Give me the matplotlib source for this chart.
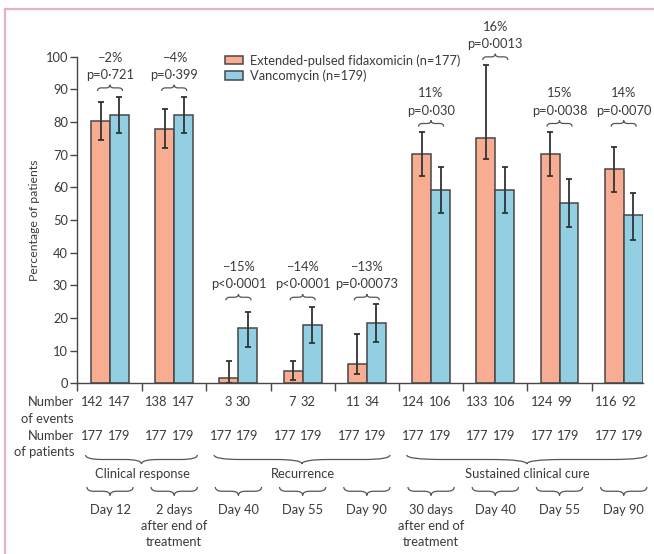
import matplotlib
matplotlib.use("Agg")
import matplotlib.pyplot as plt
import numpy as np
from matplotlib.path import Path
from matplotlib.patches import PathPatch, Patch
from matplotlib.lines import Line2D
import matplotlib.transforms as mtransforms

plt.rcParams['font.family'] = ['Lato', 'DejaVu Sans']

# ---------------- data ----------------
fid_vals = [80.3, 78.0, 1.6, 3.9, 6.0, 70.3, 75.0, 70.3, 65.5]
fid_lo = [74.4, 72.1, 0.0, 1.0, 2.7, 63.4, 68.8, 63.4, 58.7]
fid_hi = [86.0, 84.0, 6.7, 6.7, 15.0, 76.8, 97.5, 76.8, 72.3]
van_vals = [82.1, 82.1, 16.8, 17.8, 18.6, 59.1, 59.1, 55.3, 51.4]
van_lo = [76.7, 76.7, 11.1, 12.2, 12.7, 52.1, 52.1, 47.8, 43.9]
van_hi = [87.6, 87.6, 21.8, 23.3, 24.4, 66.1, 66.1, 62.6, 58.3]
fid_events = [142, 138, 3, 7, 11, 124, 133, 124, 116]
van_events = [147, 147, 30, 32, 34, 106, 106, 99, 92]
fid_patients = [177] * 9
van_patients = [179] * 9
diff_labels = ["\u22122%", "\u22124%", "\u221215%", "\u221214%", "\u221213%", "11%", "16%", "15%", "14%"]
p_labels = ["p=0\u00b7721", "p=0\u00b7399", "p<0\u00b70001", "p<0\u00b70001", "p=0\u00b700073",
            "p=0\u00b7030", "p=0\u00b70013", "p=0\u00b70038", "p=0\u00b70070"]
annot_base = [89.5, 89.5, 25.4, 25.4, 25.4, 78.6, 99.0, 78.6, 78.6]
timepoints = ["Day 12", "2 days\nafter end of\ntreatment", "Day 40", "Day 55", "Day 90",
              "30 days\nafter end of\ntreatment", "Day 40", "Day 55", "Day 90"]
outcome_groups = [("Clinical response", 0, 1), ("Recurrence", 2, 4), ("Sustained clinical cure", 5, 8)]
legend_labels = ["Extended-pulsed fidaxomicin (n=177)", "Vancomycin (n=179)"]

# ---------------- style ----------------
W, H = 654, 554
c_fid = "#F8AC92"
c_van = "#93CFE3"
edge = "#474747"
txt = "#3a3a3a"
fs = 8.5

fig = plt.figure(figsize=(W / 100, H / 100), dpi=100)
ax = fig.add_axes([77 / W, (H - 383.3) / H, (643 - 77) / W, (383.3 - 56.7) / H])

x = np.arange(len(fid_vals))
bw = 0.295
fe = [np.array(fid_vals) - np.array(fid_lo), np.array(fid_hi) - np.array(fid_vals)]
ve = [np.array(van_vals) - np.array(van_lo), np.array(van_hi) - np.array(van_vals)]
ekw = dict(ecolor="#333333", elinewidth=1.3, capsize=2.4, capthick=1.3)
ax.bar(x - bw / 2, fid_vals, bw, color=c_fid, edgecolor=edge, linewidth=1.1, yerr=fe, error_kw=ekw, zorder=2)
ax.bar(x + bw / 2, van_vals, bw, color=c_van, edgecolor=edge, linewidth=1.1, yerr=ve, error_kw=ekw, zorder=2)

ax.set_xlim(-0.514, 8.30)
ax.set_ylim(0, 100)
for s in ["top", "right"]:
    ax.spines[s].set_visible(False)
for s in ["left", "bottom"]:
    ax.spines[s].set_color(edge)
    ax.spines[s].set_linewidth(1.0)
ax.set_yticks(np.arange(0, 101, 10))
ax.tick_params(axis="y", length=5, width=1.0, color=edge, labelsize=fs + 0.8, labelcolor=txt, pad=1.5)
ax.set_xticks([-0.514] + list(np.arange(0.5, 8.0, 1.0)))
ax.set_xticklabels([])
ax.tick_params(axis="x", length=5.5, width=1.0, color=edge)

fig.text(35 / W, 1 - 220 / H, "Percentage of patients", rotation=90, ha="center", va="center",
         fontsize=fs + 0.3, color=txt)


def brace(x0, x1, y_end, y_tip, transform, lw=0.9):
    w = x1 - x0
    xm = (x0 + x1) / 2
    ym = (y_end + y_tip) / 2
    a = w * 0.15
    verts = [(x0, y_end), (x0, ym), (x0 + a, ym), (xm - a, ym), (xm, ym), (xm, y_tip),
             (xm, ym), (xm + a, ym), (x1 - a, ym), (x1, ym), (x1, y_end)]
    codes = [Path.MOVETO, Path.CURVE3, Path.CURVE3, Path.LINETO, Path.CURVE3, Path.CURVE3,
             Path.CURVE3, Path.CURVE3, Path.LINETO, Path.CURVE3, Path.CURVE3]
    p = PathPatch(Path(verts, codes), facecolor="none", edgecolor="#555555", lw=lw,
                  transform=transform, clip_on=False)
    fig.add_artist(p)


# annotations above bars
for i in range(len(x)):
    b = annot_base[i]
    brace(i - 0.195, i + 0.195, b, b + 1.9, ax.transData)
    ax.text(i, b + 4.9, p_labels[i], ha="center", va="center", fontsize=fs + 0.8, color=txt, clip_on=False)
    ax.text(i, b + 10.2, diff_labels[i], ha="center", va="center", fontsize=fs + 0.8, color=txt, clip_on=False)

# rows below axis
bt = mtransforms.blended_transform_factory(ax.transData, fig.transFigure)


def fy(py):
    return 1 - py / H


for i in range(len(x)):
    for py, a, b in [(402, fid_events[i], van_events[i]), (436.5, fid_patients[i], van_patients[i])]:
        ax.text(i - 0.1, fy(py), f"{a}", transform=bt, ha="right", va="center",
                fontsize=fs + 0.8, color=txt)
        ax.text(i - 0.04, fy(py), f"{b}", transform=bt, ha="left", va="center",
                fontsize=fs + 0.8, color=txt)
    brace(i - 0.36, i + 0.36, fy(487), fy(495.5), bt)
    for k, line in enumerate(timepoints[i].split("\n")):
        ax.text(i, fy(509.5 + 16.3 * k), line, transform=bt, ha="center", va="center",
                fontsize=fs + 0.8, color=txt)

for lab, g0, g1 in outcome_groups:
    brace(g0 - 0.38, g1 + 0.36, fy(455), fy(464), bt)
    ax.text((g0 + g1) / 2, fy(473.5), lab, transform=bt, ha="center", va="center",
            fontsize=fs + 0.8, color=txt)

for py, s in [(402, "Number"), (419, "of events"), (436.5, "Number"), (452.5, "of patients")]:
    fig.text(74 / W, fy(py), s, ha="right", va="center", fontsize=fs + 0.8, color=txt)

# legend
handles = [Patch(facecolor=c_fid, edgecolor=edge, linewidth=1.1),
           Patch(facecolor=c_van, edgecolor=edge, linewidth=1.1)]
fig.legend(handles, legend_labels, loc="upper left", bbox_to_anchor=(225 / W, fy(54)),
           bbox_transform=fig.transFigure, frameon=False, fontsize=fs + 0.8, handlelength=1.4,
           handleheight=0.65, handletextpad=0.55, labelspacing=0.25, borderpad=0, borderaxespad=0,
           labelcolor=txt)

# pink frame
fig.add_artist(Line2D([5 / W, 5 / W], [0, fy(9)], color="#E6B3C6", lw=1.6, transform=fig.transFigure))
fig.add_artist(Line2D([5 / W, 1], [fy(9), fy(9)], color="#E6B3C6", lw=1.6, transform=fig.transFigure))

fig.savefig("out.png", dpi=100)
